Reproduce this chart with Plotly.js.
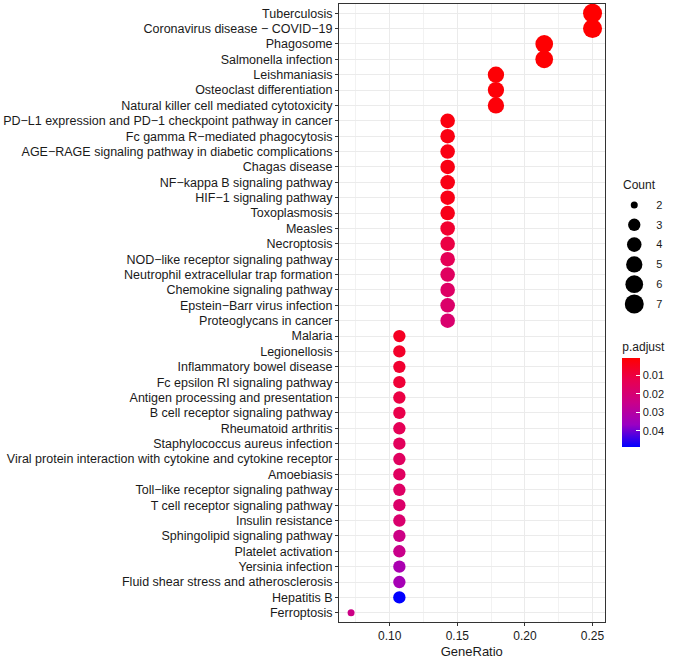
<!DOCTYPE html>
<html>
<head>
<meta charset="utf-8">
<script src="https://cdn.plot.ly/plotly-3.0.1.min.js"></script>
<style>
  html, body { margin: 0; padding: 0; background: #fff; }
  #plotly-graph { width: 673px; height: 659px; }
</style>
</head>
<body>
<div id="plotly-graph"></div>
<script>
// KEGG enrichment terms, top to bottom
var terms = [
  'Tuberculosis', 'Coronavirus disease \u2212 COVID\u221219', 'Phagosome', 'Salmonella infection',
  'Leishmaniasis', 'Osteoclast differentiation', 'Natural killer cell mediated cytotoxicity',
  'PD\u2212L1 expression and PD\u22121 checkpoint pathway in cancer', 'Fc gamma R\u2212mediated phagocytosis',
  'AGE\u2212RAGE signaling pathway in diabetic complications', 'Chagas disease',
  'NF\u2212kappa B signaling pathway', 'HIF\u22121 signaling pathway', 'Toxoplasmosis', 'Measles',
  'Necroptosis', 'NOD\u2212like receptor signaling pathway', 'Neutrophil extracellular trap formation',
  'Chemokine signaling pathway', 'Epstein\u2212Barr virus infection', 'Proteoglycans in cancer',
  'Malaria', 'Legionellosis', 'Inflammatory bowel disease', 'Fc epsilon RI signaling pathway',
  'Antigen processing and presentation', 'B cell receptor signaling pathway', 'Rheumatoid arthritis',
  'Staphylococcus aureus infection', 'Viral protein interaction with cytokine and cytokine receptor',
  'Amoebiasis', 'Toll\u2212like receptor signaling pathway', 'T cell receptor signaling pathway',
  'Insulin resistance', 'Sphingolipid signaling pathway', 'Platelet activation', 'Yersinia infection',
  'Fluid shear stress and atherosclerosis', 'Hepatitis B', 'Ferroptosis'
];

// gene counts (out of 28 genes)
var counts = [7, 7, 6, 6, 5, 5, 5,
  4, 4, 4, 4, 4, 4, 4, 4, 4, 4, 4, 4, 4, 4,
  3, 3, 3, 3, 3, 3, 3, 3, 3, 3, 3, 3, 3, 3, 3, 3, 3, 3,
  2];
var totalGenes = 28;

var padj = [0.0007, 0.0008, 0.0010, 0.0012, 0.0015, 0.0018, 0.0020,
  0.0030, 0.0032, 0.0035, 0.0036, 0.0038, 0.0040, 0.0045, 0.0080, 0.0110, 0.0140, 0.0160, 0.0170, 0.0180, 0.0190,
  0.0060, 0.0070, 0.0080, 0.0090, 0.0110, 0.0120, 0.0140, 0.0150, 0.0160, 0.0160, 0.0170, 0.0180, 0.0190,
  0.0240, 0.0250, 0.0330, 0.0340, 0.0489,
  0.0240];

var padjTicks = [0.01, 0.02, 0.03, 0.04];
var legendCounts = [2, 3, 4, 5, 6, 7];

var geneRatio = counts.map(function (c) { return c / totalGenes; });

// ggplot-like area scale for Count -> diameter in px
function sizeScale(c) {
  var s = 1 + 5 * Math.sqrt((c - 2) / 5);
  return 4.6 + 2.4 * s;
}

// blue -> red (Lab-like), used on negated p.adjust so red sits at the top of the bar
var pal = [[0, '#0000FF'], [0.25, '#9A00C3'], [0.5, '#CA0089'], [0.75, '#E80050'], [1, '#FF0000']];

var fontFam = 'Liberation Sans, Arial, sans-serif';

var dots = {
  type: 'scatter',
  mode: 'markers',
  x: geneRatio,
  y: terms,
  xaxis: 'x', yaxis: 'y',
  showlegend: false,
  hoverinfo: 'x+y',
  marker: {
    size: counts.map(sizeScale),
    sizemode: 'diameter',
    color: padj.map(function (p) { return -p; }),
    cmin: -0.049,
    cmax: -0.0007,
    colorscale: pal,
    line: { width: 0 },
    opacity: 1,
    colorbar: {
      title: { text: 'p.adjust', side: 'top', font: { size: 12, family: fontFam, color: '#1a1a1a' } },
      x: 0.869, xanchor: 'left', xref: 'paper',
      y: 0.370, yanchor: 'middle',
      thickness: 18, thicknessmode: 'pixels',
      len: 108, lenmode: 'pixels',
      xpad: 0, ypad: 0,
      outlinewidth: 0,
      tickvals: padjTicks.map(function (p) { return -p; }),
      ticktext: padjTicks.map(function (p) { return p.toFixed(2); }),
      ticks: 'inside', ticklen: 4, tickcolor: '#ffffff',
      tickfont: { size: 11, family: fontFam, color: '#1a1a1a' }
    }
  }
};

var sizeKey = {
  type: 'scatter',
  mode: 'markers',
  x: legendCounts.map(function () { return 'Count'; }),
  y: legendCounts.map(String),
  xaxis: 'x2', yaxis: 'y2',
  showlegend: false,
  hoverinfo: 'skip',
  marker: { size: legendCounts.map(sizeScale), color: '#000000', opacity: 1, line: { width: 0 } }
};

var layout = {
  width: 673,
  height: 659,
  margin: { l: 339, r: 5, t: 4, b: 37 },
  paper_bgcolor: '#ffffff',
  plot_bgcolor: '#ffffff',
  showlegend: false,
  font: { family: fontFam, size: 11, color: '#1a1a1a' },
  xaxis: {
    domain: [0, 0.8146],
    range: [0.0625, 0.2589],
    tick0: 0.1, dtick: 0.05,
    tickformat: '.2f',
    showgrid: true, gridcolor: '#EBEBEB', gridwidth: 1,
    minor: { dtick: 0.025, showgrid: true, gridcolor: '#F2F2F2', gridwidth: 1 },
    zeroline: false,
    showline: true, mirror: true, linecolor: '#333333', linewidth: 1,
    ticks: 'outside', ticklen: 3, tickcolor: '#333333',
    tickfont: { size: 12, family: fontFam, color: '#1a1a1a' },
    title: { text: 'GeneRatio', font: { size: 13, family: fontFam, color: '#1a1a1a' }, standoff: 4 },
    fixedrange: true
  },
  yaxis: {
    type: 'category',
    categoryorder: 'array',
    categoryarray: terms,
    range: [terms.length - 0.4, -0.6],
    showgrid: true, gridcolor: '#EBEBEB', gridwidth: 1,
    zeroline: false,
    showline: true, mirror: true, linecolor: '#333333', linewidth: 1,
    ticks: 'outside', ticklen: 3, tickcolor: '#333333',
    tickfont: { size: 12.5, family: fontFam, color: '#1a1a1a' },
    fixedrange: true
  },
  xaxis2: {
    domain: [0.8754, 0.936],
    anchor: 'y2',
    type: 'category',
    visible: false,
    fixedrange: true
  },
  yaxis2: {
    domain: [0.4985, 0.6908],
    anchor: 'x2',
    side: 'right',
    type: 'category',
    categoryorder: 'array',
    categoryarray: legendCounts.map(String),
    range: [5.5, -0.5],
    showgrid: false, zeroline: false, showline: false,
    ticks: '',
    ticklabelstandoff: 11,
    tickfont: { size: 11, family: fontFam, color: '#1a1a1a' },
    fixedrange: true
  },
  annotations: [{
    text: 'Count',
    xref: 'paper', yref: 'paper',
    x: 0.866, y: 0.692,
    xanchor: 'left', yanchor: 'bottom',
    showarrow: false,
    font: { size: 12, family: fontFam, color: '#1a1a1a' }
  }]
};

var config = { displayModeBar: false, staticPlot: true };

Plotly.newPlot('plotly-graph', [dots, sizeKey], layout, config);
</script>
</body>
</html>
